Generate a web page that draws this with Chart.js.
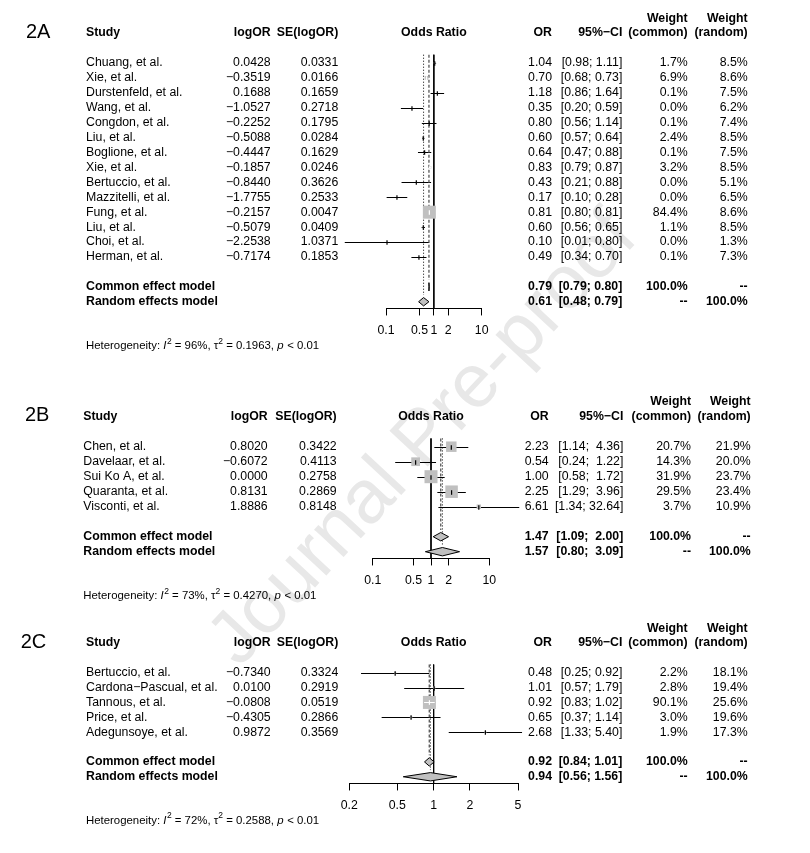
<!DOCTYPE html>
<html>
<head>
<meta charset="utf-8">
<script src="https://cdn.jsdelivr.net/npm/chart.js@4.4.1/dist/chart.umd.min.js"></script>
<style>
html,body{margin:0;padding:0;background:#fff;width:810px;height:853px;overflow:hidden;position:relative;}
#wm{position:absolute;left:420px;top:436px;transform:translate(-50%,-50%) rotate(-47deg);font:76px "Liberation Sans",Arial,Helvetica,sans-serif;color:#e8e8e8;white-space:nowrap;z-index:0;}
canvas{position:absolute;left:0;z-index:1;}
</style>
</head>
<body>
<div id="wm">Journal Pre-proof</div>
<canvas id="cA" width="810" height="365" style="top:0px"></canvas>
<canvas id="cB" width="810" height="245" style="top:365px"></canvas>
<canvas id="cC" width="810" height="243" style="top:610px"></canvas>
<script>
// ---------- DATA: panel 2A ----------
const studiesA = ["Chuang, et al.","Xie, et al.","Durstenfeld, et al.","Wang, et al.","Congdon, et al.","Liu, et al.","Boglione, et al.","Xie, et al.","Bertuccio, et al.","Mazzitelli, et al.","Fung, et al.","Liu, et al.","Choi, et al.","Herman, et al."];
const logOrA = [0.0428,-0.3519,0.1688,-1.0527,-0.2252,-0.5088,-0.4447,-0.1857,-0.8440,-1.7755,-0.2157,-0.5079,-2.2538,-0.7174];
const seA = [0.0331,0.0166,0.1659,0.2718,0.1795,0.0284,0.1629,0.0246,0.3626,0.2533,0.0047,0.0409,1.0371,0.1853];
const orA = [1.04,0.70,1.18,0.35,0.80,0.60,0.64,0.83,0.43,0.17,0.81,0.60,0.10,0.49];
const ciLowA = [0.98,0.68,0.86,0.20,0.56,0.57,0.47,0.79,0.21,0.10,0.80,0.56,0.01,0.34];
const ciHighA = [1.11,0.73,1.64,0.59,1.14,0.64,0.88,0.87,0.88,0.28,0.81,0.65,0.80,0.70];
const wCommonA = [1.7,6.9,0.1,0.0,0.1,2.4,0.1,3.2,0.0,0.0,84.4,1.1,0.0,0.1];
const wRandomA = [8.5,8.6,7.5,6.2,7.4,8.5,7.5,8.5,5.1,6.5,8.6,8.5,1.3,7.3];
const commonA = [0.79,0.79,0.80];
const randomA = [0.61,0.48,0.79];
const hetA = ["96%","0.1963","< 0.01"];
const ticksA = [0.1,0.5,1,2,10];
const tickLabelsA = ["0.1","0.5","1","2","10"];

// ---------- DATA: panel 2B ----------
const studiesB = ["Chen, et al.","Davelaar, et al.","Sui Ko A, et al.","Quaranta, et al.","Visconti, et al."];
const logOrB = [0.8020,-0.6072,0.0000,0.8131,1.8886];
const seB = [0.3422,0.4113,0.2758,0.2869,0.8148];
const orB = [2.23,0.54,1.00,2.25,6.61];
const ciLowB = [1.14,0.24,0.58,1.29,1.34];
const ciHighB = [4.36,1.22,1.72,3.96,32.64];
const wCommonB = [20.7,14.3,31.9,29.5,3.7];
const wRandomB = [21.9,20.0,23.7,23.4,10.9];
const commonB = [1.47,1.09,2.00];
const randomB = [1.57,0.80,3.09];
const hetB = ["73%","0.4270","< 0.01"];
const ticksB = [0.1,0.5,1,2,10];
const tickLabelsB = ["0.1","0.5","1","2","10"];

// ---------- DATA: panel 2C ----------
const studiesC = ["Bertuccio, et al.","Cardona\u2212Pascual, et al.","Tannous, et al.","Price, et al.","Adegunsoye, et al."];
const logOrC = [-0.7340,0.0100,-0.0808,-0.4305,0.9872];
const seC = [0.3324,0.2919,0.0519,0.2866,0.3569];
const orC = [0.48,1.01,0.92,0.65,2.68];
const ciLowC = [0.25,0.57,0.83,0.37,1.33];
const ciHighC = [0.92,1.79,1.02,1.14,5.40];
const wCommonC = [2.2,2.8,90.1,3.0,1.9];
const wRandomC = [18.1,19.4,25.6,19.6,17.3];
const commonC = [0.92,0.84,1.01];
const randomC = [0.94,0.56,1.56];
const hetC = ["72%","0.2588","< 0.01"];
const ticksC = [0.2,0.5,1,2,5];
const tickLabelsC = ["0.2","0.5","1","2","5"];

// ---------- layout / style ----------
const FONT = '"Liberation Sans", Arial, Helvetica, sans-serif';
const FS = 12.3;
const Z95 = 1.959964;
const SQ_MAX = 13;
const DIA_H = 0.28;
const GRAY = '#c0c0c0';

const layoutA = {top:0, height:365, row0:61.7, xMin:386, xMax:481.7,
  cols:{tag:26, study:86, logor:270.7, se:338.3, or:552, ci:622.3, wc:687.7, wr:747.7}};
const layoutB = {top:365, height:245, row0:446.7, xMin:372.7, xMax:489.3,
  cols:{tag:25, study:83.3, logor:267.7, se:336.7, or:548.7, ci:623.3, wc:691, wr:750.7}};
const layoutC = {top:610, height:243, row0:671.7, xMin:349.3, xMax:518,
  cols:{tag:20.7, study:86, logor:270.7, se:338.3, or:552, ci:622.3, wc:687.7, wr:747.7}};

function minus(s){ return s.replace(/-/g,'\u2212'); }
function txt(ctx, s, x, y, align, bold, size, style){
  ctx.font = (style||'') + ' ' + (bold?'bold ':'') + (size||FS) + 'px ' + FONT;
  ctx.textAlign = align; ctx.textBaseline = 'middle'; ctx.fillStyle = '#000';
  ctx.fillText(s, x, y);
}

function makePanel(id, P, L){
  const n = P.studies.length;
  const yMin = -3.6, yMax = n + 2.45;
  const r0 = L.row0 - L.top;
  const padTop = r0 + yMin*15;
  const axisY = r0 + yMax*15;
  const AXIS_H = 30;
  const padBottom = L.height - axisY - AXIS_H;

  const est = P.logOr.map(v => Math.exp(v));
  const lo = P.logOr.map((v,i) => Math.exp(v - Z95*P.se[i]));
  const hi = P.logOr.map((v,i) => Math.exp(v + Z95*P.se[i]));
  const wMax = Math.max(...P.wCommon);
  const side = P.wCommon.map(w => SQ_MAX*Math.sqrt(w/wMax));
  const hiLen = Math.max(...P.ciHigh.map(v => v.toFixed(2).length), P.common[2].toFixed(2).length, P.random[2].toFixed(2).length);
  const fmtCI = (a,b) => '[' + a.toFixed(2) + '; ' + ' '.repeat(hiLen - b.toFixed(2).length) + b.toFixed(2) + ']';

  const diamond = (v, r) => [{x:v[1],y:r},{x:v[0],y:r-DIA_H},{x:v[2],y:r},{x:v[0],y:r+DIA_H},{x:v[1],y:r}];

  const datasets = [
    {type:'line', data:[{x:1,y:-0.55},{x:1,y:yMax}], borderColor:'#000', borderWidth:1, pointRadius:0, order:6, clip:false},
    {type:'line', data:[{x:P.common[0],y:-0.55},{x:P.common[0],y:n+0.55}], borderColor:'#555', borderWidth:1.3, borderDash:[3,2], pointRadius:0, order:5, clip:false},
    {type:'line', data:[{x:P.random[0],y:-0.55},{x:P.random[0],y:n+1.55}], borderColor:'#000', borderWidth:1, borderDash:[1,2], pointRadius:0, order:5, clip:false},
    {type:'scatter', data: est.map((v,i)=>({x:v,y:i})), pointStyle:'rect', pointRadius: side.map(s=>s/Math.SQRT2), backgroundColor:GRAY, borderWidth:0, order:3, clip:false},
    {type:'line', data: diamond(P.common, n+1), fill:'shape', backgroundColor:GRAY, borderColor:'#000', borderWidth:1, pointRadius:0, tension:0, order:2, clip:false},
    {type:'line', data: diamond(P.random, n+2), fill:'shape', backgroundColor:GRAY, borderColor:'#000', borderWidth:1, pointRadius:0, tension:0, order:2, clip:false}
  ];

  const ciInfo = chart => {
    const xs = chart.scales.x, ys = chart.scales.y;
    return est.map((v,i) => {
      const xE = xs.getPixelForValue(v), xL = xs.getPixelForValue(lo[i]), xR = xs.getPixelForValue(hi[i]);
      const y = Math.round(ys.getPixelForValue(i)) + 0.5;
      const inside = xL >= xE - side[i]/2 && xR <= xE + side[i]/2 && side[i] > 0.5;
      return {xE, xL, xR, y, inside};
    });
  };

  const plugin = {
    id: 'forest' + id,
    beforeDatasetsDraw(chart){
      const ctx = chart.ctx;
      ctx.save();
      ctx.strokeStyle = '#000'; ctx.lineWidth = 1;
      ciInfo(chart).forEach(c => {
        if (c.inside) return;
        ctx.beginPath(); ctx.moveTo(c.xL, c.y); ctx.lineTo(c.xR, c.y); ctx.stroke();
      });
      ctx.restore();
    },
    afterDatasetsDraw(chart){
      const ctx = chart.ctx;
      ctx.save();
      ciInfo(chart).forEach(c => {
        ctx.strokeStyle = c.inside ? '#fff' : '#000';
        ctx.lineWidth = 1;
        if (c.inside){ ctx.beginPath(); ctx.moveTo(c.xL, c.y); ctx.lineTo(c.xR, c.y); ctx.stroke(); }
        ctx.lineWidth = 1.2;
        ctx.beginPath(); ctx.moveTo(c.xE, c.y-2.3); ctx.lineTo(c.xE, c.y+2.3); ctx.stroke();
      });
      ctx.restore();
    },
    afterDraw(chart){
      const ctx = chart.ctx, ys = chart.scales.y, ca = chart.chartArea;
      const Y = r => ys.getPixelForValue(r);
      const C = L.cols;
      ctx.save();
      txt(ctx, P.tag, C.tag, Y(-2.05), 'left', false, 20);
      txt(ctx,'Study',C.study,Y(-2),'left',true);
      txt(ctx,'logOR',C.logor,Y(-2),'right',true);
      txt(ctx,'SE(logOR)',C.se,Y(-2),'right',true);
      txt(ctx,'Odds Ratio',(ca.left+ca.right)/2,Y(-2),'center',true);
      txt(ctx,'OR',C.or,Y(-2),'right',true);
      txt(ctx,'95%\u2212CI',C.ci,Y(-2),'right',true);
      txt(ctx,'Weight',C.wc,Y(-3),'right',true);
      txt(ctx,'(common)',C.wc,Y(-2),'right',true);
      txt(ctx,'Weight',C.wr,Y(-3),'right',true);
      txt(ctx,'(random)',C.wr,Y(-2),'right',true);
      P.studies.forEach((s,i) => {
        const y = Y(i);
        txt(ctx, s, C.study, y, 'left', false);
        txt(ctx, minus(P.logOr[i].toFixed(4)), C.logor, y, 'right', false);
        txt(ctx, P.se[i].toFixed(4), C.se, y, 'right', false);
        txt(ctx, P.or[i].toFixed(2), C.or, y, 'right', false);
        txt(ctx, fmtCI(P.ciLow[i], P.ciHigh[i]), C.ci, y, 'right', false);
        txt(ctx, P.wCommon[i].toFixed(1)+'%', C.wc, y, 'right', false);
        txt(ctx, P.wRandom[i].toFixed(1)+'%', C.wr, y, 'right', false);
      });
      const sum = [[P.common,'Common effect model','100.0%','--'],[P.random,'Random effects model','--','100.0%']];
      sum.forEach((s,k) => {
        const y = Y(n+1+k);
        txt(ctx, s[1], C.study, y, 'left', true);
        txt(ctx, s[0][0].toFixed(2), C.or, y, 'right', true);
        txt(ctx, fmtCI(s[0][1], s[0][2]), C.ci, y, 'right', true);
        txt(ctx, s[2], C.wc, y, 'right', true);
        txt(ctx, s[3], C.wr, y, 'right', true);
      });
      // heterogeneity
      const hs = 11.4, hy = Y(n+4.95);
      const parts = [['Heterogeneity: ',''],['I','italic'],['2','sup'],[' = '+P.het[0]+', ',''],['\u03c4',''],['2','sup'],[' = '+P.het[1]+', ',''],['p','italic'],[' '+P.het[2],'']];
      let x = C.study;
      parts.forEach(pt => {
        const sup = pt[1]==='sup';
        const size = sup ? 8.5 : hs;
        ctx.font = (pt[1]==='italic'?'italic ':'') + size + 'px ' + FONT;
        ctx.textAlign='left'; ctx.textBaseline='middle'; ctx.fillStyle='#000';
        ctx.fillText(pt[0], x, sup ? hy-4.5 : hy);
        x += ctx.measureText(pt[0]).width + (pt[1]==='italic'?0.5:0);
      });
      ctx.restore();
    }
  };

  return new Chart(document.getElementById(id), {
    data: {datasets},
    options: {
      responsive:false, animation:false, devicePixelRatio:1, events:[],
      layout:{padding:{left:L.xMin, right:810-L.xMax, top:padTop, bottom:padBottom}},
      plugins:{legend:{display:false}, tooltip:{enabled:false}},
      scales:{
        x:{type:'logarithmic', min:P.ticks[0], max:P.ticks[P.ticks.length-1], position:'bottom',
           afterBuildTicks: sc => { sc.ticks = P.ticks.map(v => ({value:v})); },
           afterFit: sc => { sc.height = AXIS_H; },
           grid:{display:true, drawOnChartArea:false, drawTicks:true, tickLength:7, color:'#000', lineWidth:1},
           border:{display:true, color:'#000', width:1},
           ticks:{autoSkip:false, maxRotation:0, minRotation:0, padding:8, color:'#000', font:{family:FONT, size:FS},
                  callback: (v) => { const k = P.ticks.indexOf(v); return k >= 0 ? P.tickLabels[k] : ''; }}},
        y:{type:'linear', reverse:true, min:yMin, max:yMax, display:false}
      }
    },
    plugins:[plugin]
  });
}

makePanel('cA', {tag:'2A', studies:studiesA, logOr:logOrA, se:seA, or:orA, ciLow:ciLowA, ciHigh:ciHighA, wCommon:wCommonA, wRandom:wRandomA, common:commonA, random:randomA, het:hetA, ticks:ticksA, tickLabels:tickLabelsA}, layoutA);
makePanel('cB', {tag:'2B', studies:studiesB, logOr:logOrB, se:seB, or:orB, ciLow:ciLowB, ciHigh:ciHighB, wCommon:wCommonB, wRandom:wRandomB, common:commonB, random:randomB, het:hetB, ticks:ticksB, tickLabels:tickLabelsB}, layoutB);
makePanel('cC', {tag:'2C', studies:studiesC, logOr:logOrC, se:seC, or:orC, ciLow:ciLowC, ciHigh:ciHighC, wCommon:wCommonC, wRandom:wRandomC, common:commonC, random:randomC, het:hetC, ticks:ticksC, tickLabels:tickLabelsC}, layoutC);
</script>
</body>
</html>
